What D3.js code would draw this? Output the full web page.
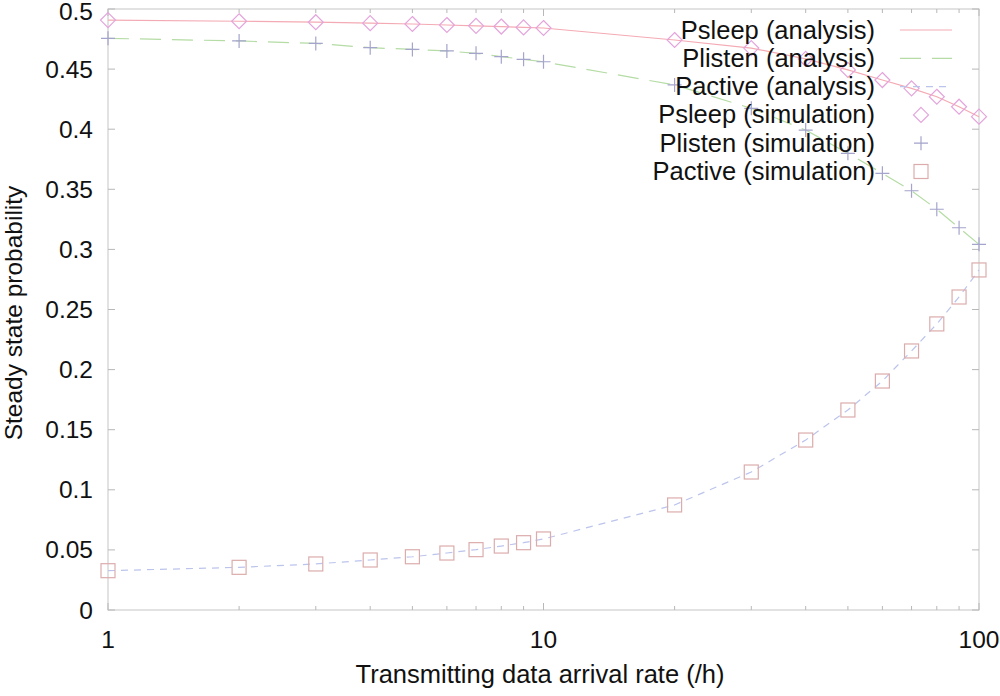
<!DOCTYPE html>
<html>
<head>
<meta charset="utf-8">
<script src="https://cdn.jsdelivr.net/npm/d3@7"></script>
<style>
  body { margin: 0; background: #fff; }
  svg { font-family: "Liberation Sans", Arial, sans-serif; }
</style>
</head>
<body>
<svg id="chart"></svg>
<script>
let rates = [1, 2, 3, 4, 5, 6, 7, 8, 9, 10, 20, 30, 40, 50, 60, 70, 80, 90, 100]

let pSleep = [0.4908, 0.4898, 0.4890, 0.4882, 0.4875, 0.4867, 0.4860, 0.4854, 0.4847, 0.4842,
              0.4742, 0.4675, 0.4585, 0.4493, 0.4409, 0.4340, 0.4270, 0.4187, 0.4104]
let pListen = [0.4756, 0.4734, 0.4714, 0.4678, 0.4664, 0.4651, 0.4631, 0.4603, 0.4581, 0.4561,
               0.4368, 0.4174, 0.3993, 0.3799, 0.3633, 0.3488, 0.3334, 0.3180, 0.3042]
let pActive = [0.0327, 0.0355, 0.0383, 0.0416, 0.0443, 0.0474, 0.0502, 0.0532, 0.0560, 0.0591,
               0.0874, 0.1148, 0.1414, 0.1664, 0.1905, 0.2155, 0.2380, 0.2604, 0.2829]

let yTicks = [0, 0.05, 0.1, 0.15, 0.2, 0.25, 0.3, 0.35, 0.4, 0.45, 0.5]
let xTicks = [1, 10, 100]
let xMinor = [2, 3, 4, 5, 6, 7, 8, 9, 20, 30, 40, 50, 60, 70, 80, 90]

let legendNames = ['Psleep (analysis)', 'Plisten (analysis)', 'Pactive (analysis)',
                   'Psleep (simulation)', 'Plisten (simulation)', 'Pactive (simulation)']

let width = 1000
let height = 696
let plotLeft = 108, plotRight = 979, plotTop = 9, plotBottom = 610

let svg = d3.select('#chart').attr('width', width).attr('height', height)

let xScale = d3.scaleLog().domain([1, 100]).range([plotLeft, plotRight])
let yScale = d3.scaleLinear().domain([0, 0.5]).range([plotBottom, plotTop])

let frameColor = '#cfcfcf'
let tickColor = '#b8b8b8'
let textColor = '#111'

// frame
svg.append('rect')
   .attr('x', plotLeft).attr('y', plotTop)
   .attr('width', plotRight - plotLeft).attr('height', plotBottom - plotTop)
   .attr('fill', 'none').attr('stroke', frameColor).attr('stroke-width', 1.2)

// y ticks, both sides, pointing in
yTicks.forEach(t => {
    let y = yScale(t)
    svg.append('line').attr('x1', plotLeft).attr('x2', plotLeft + 7).attr('y1', y).attr('y2', y)
       .attr('stroke', tickColor)
    svg.append('line').attr('x1', plotRight).attr('x2', plotRight - 7).attr('y1', y).attr('y2', y)
       .attr('stroke', tickColor)
    svg.append('text').attr('x', 93).attr('y', Math.max(y + 8.5, 19.5))
       .attr('text-anchor', 'end').attr('font-size', 24.5).attr('fill', textColor)
       .text(d3.format('')(t))
})

// x ticks
xTicks.forEach(t => {
    let x = xScale(t)
    svg.append('line').attr('x1', x).attr('x2', x).attr('y1', plotBottom).attr('y2', plotBottom - 7)
       .attr('stroke', tickColor)
    svg.append('line').attr('x1', x).attr('x2', x).attr('y1', plotTop).attr('y2', plotTop + 7)
       .attr('stroke', tickColor)
    svg.append('text').attr('x', x).attr('y', 648)
       .attr('text-anchor', 'middle').attr('font-size', 24.5).attr('fill', textColor)
       .text(t)
})
xMinor.forEach(t => {
    let x = xScale(t)
    svg.append('line').attr('x1', x).attr('x2', x).attr('y1', plotBottom).attr('y2', plotBottom - 4)
       .attr('stroke', tickColor)
    svg.append('line').attr('x1', x).attr('x2', x).attr('y1', plotTop).attr('y2', plotTop + 4)
       .attr('stroke', tickColor)
})

// axis titles
svg.append('text').attr('x', 540).attr('y', 683)
   .attr('text-anchor', 'middle').attr('font-size', 25.5).attr('fill', textColor)
   .text('Transmitting data arrival rate (/h)')
svg.append('text')
   .attr('transform', 'translate(22,313) rotate(-90)')
   .attr('text-anchor', 'middle').attr('font-size', 24.5).attr('fill', textColor)
   .text('Steady state probability')

// analysis lines
let lineStyles = [
    { data: pSleep, color: '#f4aab4', dash: null },
    { data: pListen, color: '#b4dca4', dash: '21,11' },
    { data: pActive, color: '#bcc4ec', dash: '7,6' }
]
let line = vals => d3.line()
    .x((d, i) => xScale(rates[i]))
    .y(d => yScale(d))(vals)

lineStyles.forEach(s => {
    svg.append('path').attr('d', line(s.data))
       .attr('fill', 'none').attr('stroke', s.color).attr('stroke-width', 1.2)
       .attr('stroke-dasharray', s.dash)
})

// simulation markers
let diamondColor = '#e4a4dc'
let plusColor = '#a4a4cc'
let squareColor = '#dcacac'
let ms = 7

let drawDiamond = (g, x, y) => {
    g.append('path')
     .attr('d', 'M' + x + ',' + (y - ms - 0.5) + 'L' + (x + ms + 0.5) + ',' + y + 'L' + x + ',' + (y + ms + 0.5) + 'L' + (x - ms - 0.5) + ',' + y + 'Z')
     .attr('fill', 'none').attr('stroke', diamondColor).attr('stroke-width', 1.2)
}
let drawPlus = (g, x, y) => {
    g.append('path')
     .attr('d', 'M' + (x - ms) + ',' + y + 'H' + (x + ms) + 'M' + x + ',' + (y - ms) + 'V' + (y + ms))
     .attr('fill', 'none').attr('stroke', plusColor).attr('stroke-width', 1.2)
}
let drawSquare = (g, x, y) => {
    g.append('rect').attr('x', x - ms).attr('y', y - ms).attr('width', 2 * ms).attr('height', 2 * ms)
     .attr('fill', 'none').attr('stroke', squareColor).attr('stroke-width', 1.2)
}

let marks = svg.append('g')
rates.forEach((r, i) => {
    drawDiamond(marks, xScale(r), yScale(pSleep[i]))
    drawPlus(marks, xScale(r), yScale(pListen[i]))
    drawSquare(marks, xScale(r), yScale(pActive[i]))
})

// legend
let legend = svg.append('g')
let legendY = d3.scaleLinear().domain([0, 5]).range([30, 171.5])
legendNames.forEach((name, i) => {
    let y = legendY(i)
    legend.append('text').attr('x', 875).attr('y', y + 8.5)
          .attr('text-anchor', 'end').attr('font-size', 25.5).attr('fill', textColor)
          .text(name)
    if (i < 3) {
        let s = lineStyles[i]
        legend.append('line').attr('x1', 900).attr('x2', 952).attr('y1', y).attr('y2', y)
              .attr('stroke', s.color).attr('stroke-width', 1.2)
              .attr('stroke-dasharray', s.dash)
    } else if (i === 3) {
        drawDiamond(legend, 921, y)
    } else if (i === 4) {
        drawPlus(legend, 921, y)
    } else {
        drawSquare(legend, 921, y)
    }
})
</script>
</body>
</html>
